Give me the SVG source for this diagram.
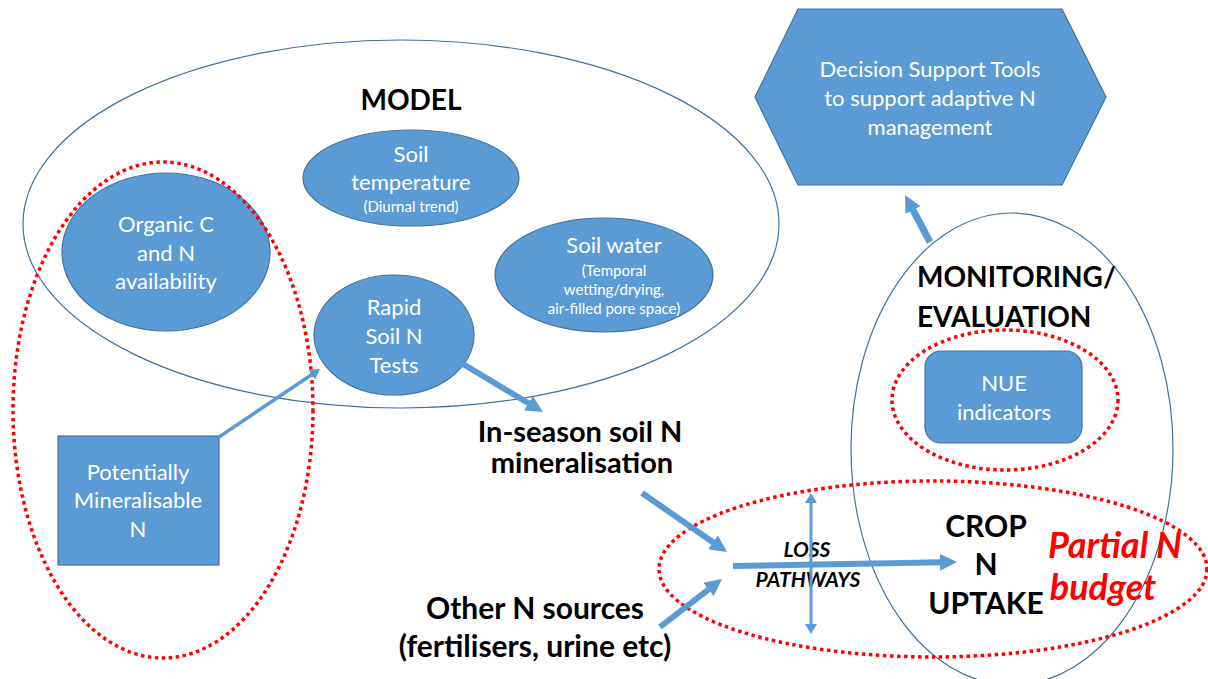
<svg xmlns="http://www.w3.org/2000/svg" width="1208" height="679" viewBox="0 0 1208 679">
<defs>
<style>
.node{fill:#5B9BD5;stroke:#41719C;stroke-width:1.2}
.outline{fill:none;stroke:#41719C;stroke-width:1.2}
.dot{fill:none;stroke:#FF0000;stroke-width:3.5;stroke-dasharray:3.5 3.5}
.wt{font-family:Lato,"Liberation Sans",sans-serif;fill:#FFFFFF;text-anchor:middle;font-size:22px}
.ws{font-family:Lato,"Liberation Sans",sans-serif;fill:#FFFFFF;text-anchor:middle;font-size:15px}
.bt{font-family:Lato,"Liberation Sans",sans-serif;fill:#000000;font-weight:bold;text-anchor:middle;font-size:30px}
.st{text-anchor:start;font-size:28px}
.it{font-style:italic;font-size:21px}
.red{font-family:Lato,"Liberation Sans",sans-serif;fill:#FF0000;font-weight:bold;font-style:italic;font-size:36px;text-anchor:middle}
.arr{stroke:#5B9BD5;stroke-width:6;fill:none;marker-end:url(#ah)}
.arrs{stroke:#5B9BD5;stroke-width:3.5;fill:none;marker-end:url(#ahs)}
</style>
<marker id="ah" markerUnits="userSpaceOnUse" markerWidth="17" markerHeight="17" refX="3" refY="8.5" orient="auto" viewBox="0 0 17 17">
<path d="M0,0 L17,8.5 L0,17 z" fill="#5B9BD5"/>
</marker>
<marker id="ahs" markerUnits="userSpaceOnUse" markerWidth="10" markerHeight="12" refX="2" refY="6" orient="auto-start-reverse" viewBox="0 0 10 12">
<path d="M0,0 L10,6 L0,12 z" fill="#5B9BD5"/>
</marker>
</defs>
<rect width="1208" height="679" fill="#FFFFFF"/>

<g id="model">
<ellipse class="outline" cx="401" cy="224" rx="378" ry="184"/>
<text class="bt" x="411" y="110" style="font-size:28px">MODEL</text>
</g>

<g id="monitoring">
<ellipse class="outline" cx="1012" cy="449" rx="161" ry="236"/>
<text class="bt st" x="917" y="287">MONITORING/</text>
<text class="bt st" x="917" y="327">EVALUATION</text>
</g>

<g id="organic">
<ellipse class="node" cx="166" cy="252" rx="104" ry="79"/>
<text class="wt" x="166" y="232">Organic C</text>
<text class="wt" x="166" y="261">and N</text>
<text class="wt" x="166" y="289">availability</text>
</g>

<g id="soil-temp">
<ellipse class="node" cx="411" cy="178" rx="108" ry="48"/>
<text class="wt" x="411" y="162">Soil</text>
<text class="wt" x="411" y="190">temperature</text>
<text class="ws" x="411" y="212">(Diurnal trend)</text>
</g>

<g id="soil-water">
<ellipse class="node" cx="604" cy="275" rx="109" ry="57"/>
<text class="wt" x="614" y="253">Soil water</text>
<text class="ws" x="614" y="276">(Temporal</text>
<text class="ws" x="614" y="295">wetting/drying,</text>
<text class="ws" x="614" y="314">air-filled pore space)</text>
</g>

<g id="rapid">
<ellipse class="node" cx="394" cy="335" rx="80" ry="60"/>
<text class="wt" x="394" y="315">Rapid</text>
<text class="wt" x="394" y="344">Soil N</text>
<text class="wt" x="394" y="373">Tests</text>
</g>

<g id="pmn">
<rect class="node" x="58" y="436" width="161" height="129"/>
<text class="wt" x="138" y="480">Potentially</text>
<text class="wt" x="138" y="508">Mineralisable</text>
<text class="wt" x="138" y="537">N</text>
</g>

<g id="dst">
<polygon class="node" points="755,97 798,9 1062,9 1106,97 1062,185 798,185"/>
<text class="wt" x="930" y="77">Decision Support Tools</text>
<text class="wt" x="930" y="106">to support adaptive N</text>
<text class="wt" x="930" y="135">management</text>
</g>

<g id="nue">
<rect class="node" x="925" y="351" width="157" height="92" rx="16"/>
<text class="wt" x="1004" y="391">NUE</text>
<text class="wt" x="1004" y="420">indicators</text>
</g>

<g id="mineralisation">
<text class="bt" x="580" y="442" style="font-size:29px">In-season soil N</text>
<text class="bt" x="582" y="473" style="font-size:29px">mineralisation</text>
</g>

<g id="other">
<text class="bt" x="535" y="619">Other N sources</text>
<text class="bt" x="535" y="657">(fertilisers, urine etc)</text>
</g>

<g id="crop">
<text class="bt" x="986" y="537">CROP</text>
<text class="bt" x="986" y="575">N</text>
<text class="bt" x="986" y="614">UPTAKE</text>
</g>

<g id="loss">
<text class="bt it" x="807" y="557">LOSS</text>
<text class="bt it" x="808" y="587">PATHWAYS</text>
</g>

<g id="dotted">
<ellipse class="dot" cx="163" cy="410" rx="150" ry="248"/>
<ellipse class="dot" cx="1005" cy="400" rx="113" ry="70"/>
<ellipse class="dot" cx="933" cy="569" rx="274" ry="88"/>
</g>

<g id="partial">
<text class="red" x="1115" y="558">Partial N</text>
<text class="red" x="1103" y="600">budget</text>
</g>

<g id="connectors">
<line class="arrs" x1="219" y1="437" x2="313.4" y2="373.5"/>
<line class="arr" x1="463" y1="364" x2="531" y2="404.8"/>
<line class="arr" x1="642" y1="493" x2="715.5" y2="544"/>
<line class="arr" x1="660" y1="627" x2="710.9" y2="587.6"/>
<line class="arr" x1="733" y1="566" x2="943" y2="562.3"/>
<line class="arr" x1="930" y1="242" x2="911.6" y2="207.4" style="stroke-width:7"/>
<line class="arrs" x1="811" y1="501" x2="811" y2="626" style="stroke-width:3" marker-start="url(#ahs)"/>
</g>
</svg>
